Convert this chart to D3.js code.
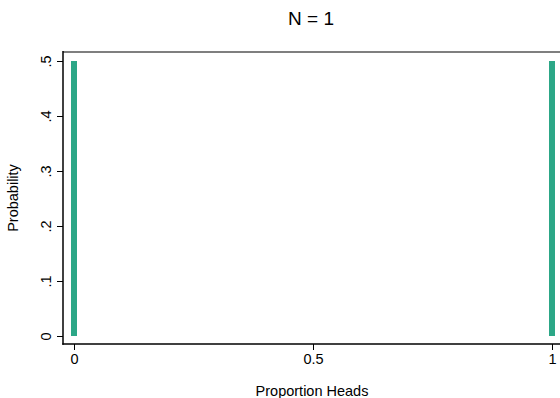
<!DOCTYPE html>
<html><head><meta charset="utf-8">
<script src="https://cdn.jsdelivr.net/npm/d3@7"></script>
<style>body{margin:0;background:#fff}svg{display:block;font-family:"Liberation Sans",Arial,sans-serif}</style>
</head><body>
<script>
const title = "N = 1";
const xLabel = "Proportion Heads";
const yLabel = "Probability";
const proportions = [0, 1];
const probabilities = [0.5, 0.5];
const xTicks = [0, 0.5, 1];
const xTickLabels = ["0", "0.5", "1"];
const yTicks = [0, 0.1, 0.2, 0.3, 0.4, 0.5];
const yTickLabels = ["0", ".1", ".2", ".3", ".4", ".5"];

const W = 560, H = 398;
const svg = d3.select("body").append("svg").attr("width", W).attr("height", H);
const x = d3.scaleLinear().domain([0, 1]).range([74, 552]);
const y = d3.scaleLinear().domain([0, 0.5]).range([336, 61]);
const axLeft = 63, axBottom = 344, plotTop = 52;

// plot region outline (top)
svg.append("line").attr("x1", axLeft).attr("x2", W + 5).attr("y1", plotTop).attr("y2", plotTop)
  .attr("stroke", "#7f7f7f").attr("stroke-width", 2);

// bars
svg.selectAll("rect.bar").data(proportions).enter().append("rect")
  .attr("class", "bar")
  .attr("x", d => x(d) - 3)
  .attr("width", 6)
  .attr("y", (d, i) => y(probabilities[i]))
  .attr("height", (d, i) => y(0) - y(probabilities[i]))
  .attr("fill", "#2ca787");

// y axis
const yAxis = d3.axisLeft(y).tickValues(yTicks).tickSize(6).tickPadding(8)
  .tickFormat((d, i) => yTickLabels[i]);
const gy = svg.append("g").attr("transform", `translate(${axLeft},0)`).call(yAxis);
gy.select(".domain").remove();
gy.append("line").attr("x1", 0).attr("x2", 0).attr("y1", plotTop - 1).attr("y2", axBottom + 0.7)
  .attr("stroke", "#000").attr("stroke-width", 1.5);
gy.selectAll(".tick line").attr("stroke", "#000").attr("stroke-width", 1);
gy.selectAll(".tick text").attr("font-size", 14.5).attr("fill", "#000")
  .attr("text-anchor", "middle").attr("dy", null)
  .attr("transform", "translate(-12,0) rotate(-90)")
  .attr("x", 0).attr("y", 0);

// x axis
const xAxis = d3.axisBottom(x).tickValues(xTicks).tickSize(6).tickPadding(4)
  .tickFormat((d, i) => xTickLabels[i]);
const gx = svg.append("g").attr("transform", `translate(0,${axBottom})`).call(xAxis);
gx.select(".domain").remove();
gx.append("line").attr("x1", axLeft - 0.7).attr("x2", W + 5).attr("y1", 0).attr("y2", 0)
  .attr("stroke", "#000").attr("stroke-width", 1.5);
gx.selectAll(".tick line").attr("stroke", "#000").attr("stroke-width", 1);
gx.selectAll(".tick text").attr("font-size", 14.5).attr("fill", "#000");

// titles
svg.append("text").attr("x", 311).attr("y", 25).attr("text-anchor", "middle")
  .attr("font-size", 19).attr("fill", "#000").text(title);
svg.append("text").attr("x", 312).attr("y", 396).attr("text-anchor", "middle")
  .attr("font-size", 14.5).attr("fill", "#000").text(xLabel);
svg.append("text").attr("transform", `translate(18,198) rotate(-90)`).attr("text-anchor", "middle")
  .attr("font-size", 14.5).attr("fill", "#000").text(yLabel);
</script>
</body></html>
